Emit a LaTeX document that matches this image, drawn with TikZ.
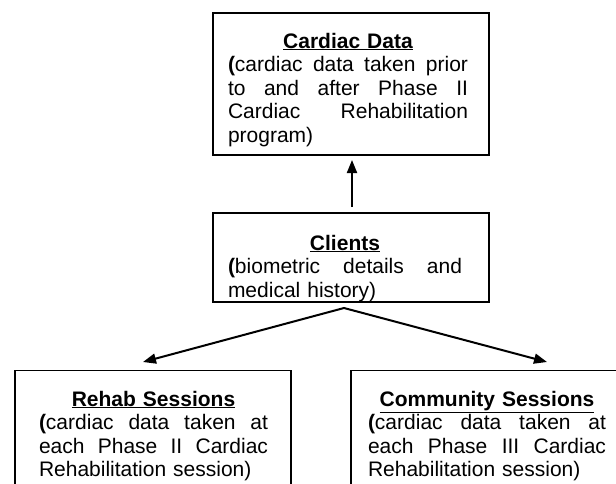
\documentclass[tikz,border=0pt]{standalone}
\usepackage{fontspec}
\setmainfont{Liberation Sans}
\usetikzlibrary{arrows.meta}
\newcommand\jline[1]{{\spaceskip=0.278em plus 1fil\xspaceskip=0.278em plus 1fil\makebox[\hsize][s]{#1}}\\}
\newcommand\ttl[1]{\makebox[\hsize][c]{\textbf{\underline{#1}}}\\}
\begin{document}
\begin{tikzpicture}[x=1pt,y=-1pt,
  box/.style={draw, line width=1.6pt, inner sep=0pt, outer sep=0pt, anchor=north west, minimum width=276pt},
  txt/.style={anchor=base west, inner sep=0pt, outer sep=0pt, font=\fontsize{21}{23.5}\selectfont},
  arr/.style={line width=2pt, -{Triangle[length=13pt,width=10pt]}},
  arrtwo/.style={line width=2pt, {Triangle[length=13pt,width=10pt]}-{Triangle[length=13pt,width=10pt]}}]
\useasboundingbox (0,0) rectangle (616,483);
\clip (0,0) rectangle (616,483);
% Cardiac Data
\node[box, minimum height=142pt] (cardiac) at (213,13) {};
\node[txt, text width=240pt] (cardiactext) at (228,48)
  {\ttl{Cardiac Data}\jline{\textbf{(}cardiac data taken prior}\jline{to and after Phase II}\jline{Cardiac Rehabilitation}program)};
% Clients
\node[box, minimum height=89pt] (clients) at (213,213) {};
\begin{scope}
  \clip (214,214) rectangle (488,300);
  \node[txt, text width=234pt] (clientstext) at (228,250)
    {\ttl{Clients}\jline{\textbf{(}biometric details and}medical history)};
\end{scope}
% Rehab Sessions
\node[box, minimum height=140pt] (rehab) at (15,370.5) {};
\node[txt, text width=229pt] (rehabtext) at (39,406)
  {\ttl{Rehab Sessions}\jline{\textbf{(}cardiac data taken at}\jline{each Phase II Cardiac}Rehabilitation session)};
% Community Sessions
\node[box, minimum height=140pt] (community) at (351,370.5) {};
\node[txt, text width=238pt] (communitytext) at (368,406)
  {\ttl{Community Sessions}\jline{\textbf{(}cardiac data taken at}\jline{each Phase III Cardiac}Rehabilitation session)};
% connectors
\draw[arr] ([xshift=1pt,yshift=6pt]clients.north) -- ([xshift=1pt,yshift=-5pt]cardiac.south);
\coordinate (fork) at ([xshift=-7pt,yshift=-6pt]clients.south);
\draw[arrtwo] ([xshift=-10pt,yshift=8.5pt]rehab.north) -- (fork) -- ([xshift=58pt,yshift=8.5pt]community.north);
\end{tikzpicture}
\end{document}
